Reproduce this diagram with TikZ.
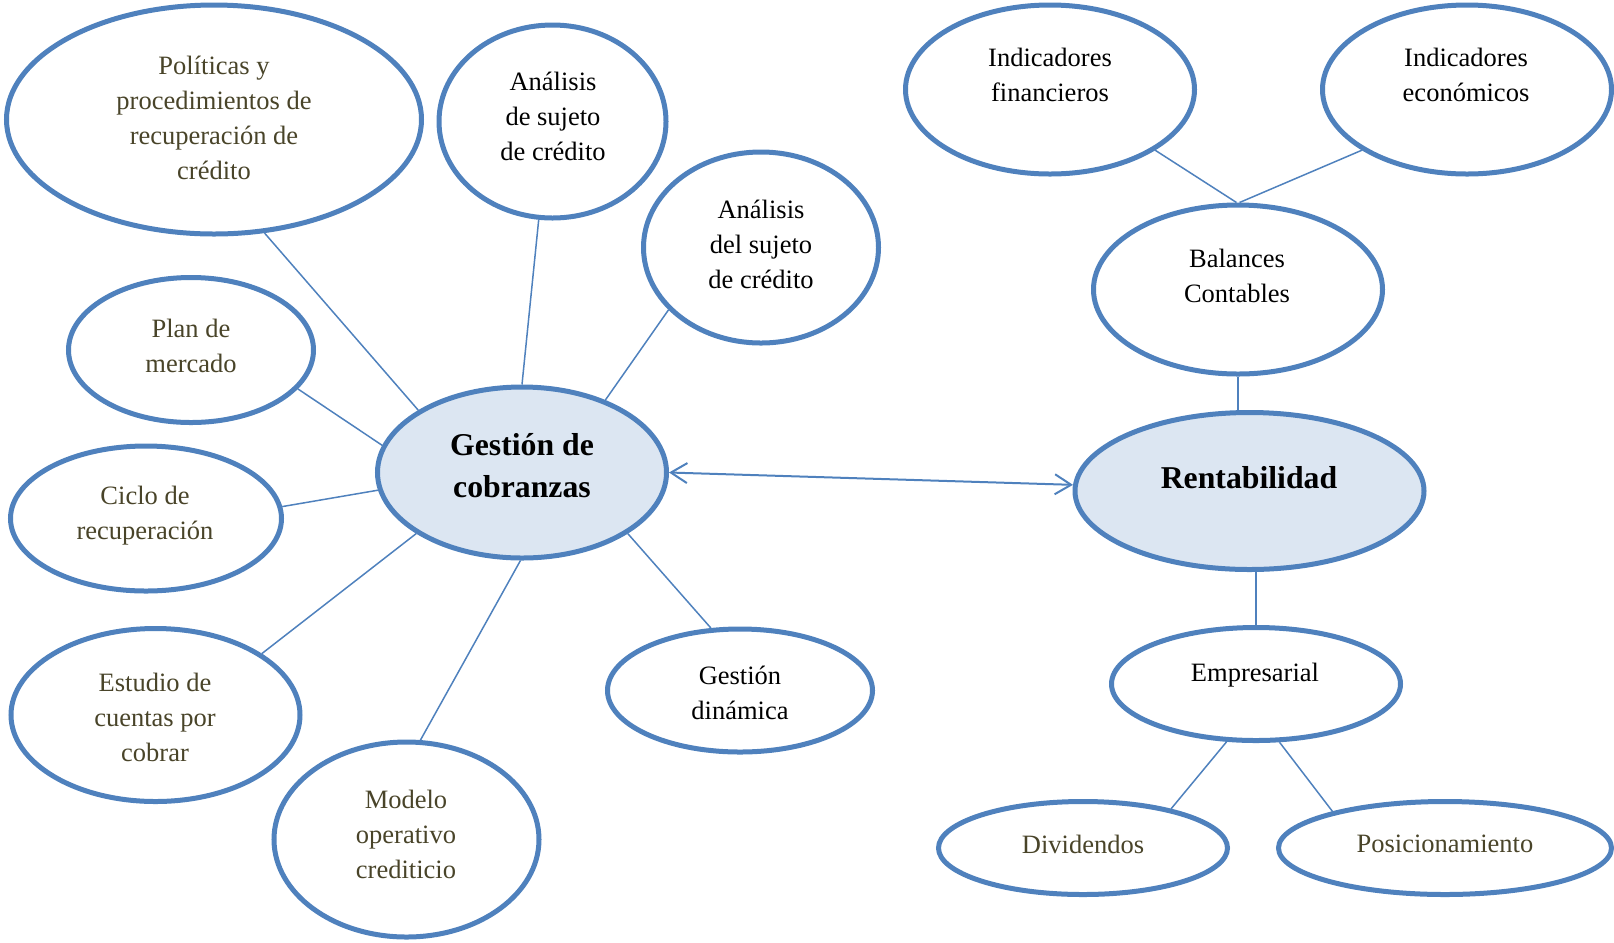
\documentclass[tikz,border=0pt]{standalone}
\usepackage{fontspec}
\setmainfont{Liberation Serif}
\usetikzlibrary{shapes.geometric,arrows.meta}
\definecolor{bblue}{RGB}{79,129,189}
\definecolor{bfill}{RGB}{220,230,242}
\definecolor{oli}{RGB}{73,68,41}
\tikzset{
  bub/.style 2 args={ellipse, draw=bblue, line width=2pt, fill=white, inner sep=0pt,
    minimum width={0.8pt*(#1+1.5)}, minimum height={0.8pt*(#2+1.5)}},
  hub/.style={fill=bfill},
  txt/.style={align=center, inner sep=0pt, font=\fontsize{10.6}{14}\selectfont},
  big/.style={align=center, inner sep=0pt, font=\fontsize{12.7}{16.8}\selectfont\bfseries},
  link/.style={draw=bblue, line width=0.6pt},
  twoway/.style={draw=bblue, line width=0.8pt,
    {Straight Barb[length=6.5pt,width=8pt]}-{Straight Barb[length=6.5pt,width=8pt]}}
}
\begin{document}
\begin{tikzpicture}[x=0.4pt,y=-0.4pt]
\useasboundingbox (0,0) rectangle (1614,942);

% ---- left cluster ----
\node[bub={206}{113}] (pol) at (214,119.5) {};
\node[bub={112}{95}] (asc) at (552.5,121.5) {};
\node[bub={116}{94}] (adc) at (761,247.5) {};
\node[bub={121}{71}] (plan) at (191,350) {};
\node[bub={134}{71}] (ciclo) at (146,518.5) {};
\node[bub={143}{84}, hub] (cob) at (522,472.5) {};
\node[bub={143}{85}] (est) at (155.5,715) {};
\node[bub={131}{96}] (mod) at (406.5,839.5) {};
\node[bub={131}{60}] (gdin) at (740,690.5) {};

% ---- right cluster ----
\node[bub={143}{83}] (ifin) at (1050,89.5) {};
\node[bub={143}{83}] (ieco) at (1467,89.5) {};
\node[bub={143}{83}] (bal) at (1238,289.5) {};
\node[bub={173}{77}, hub] (rent) at (1249.5,491) {};
\node[bub={143}{55}] (emp) at (1256,684) {};
\node[bub={143}{45}] (div) at (1083,848) {};
\node[bub={165}{45}] (pos) at (1445,848) {};

% ---- labels ----
\node[txt, text=oli] (polt) at (214,118) {Políticas y\\procedimientos de\\recuperación de\\crédito};
\node[txt] (asct) at (553,116) {Análisis\\de sujeto\\de crédito};
\node[txt] (adct) at (761,244) {Análisis\\del sujeto\\de crédito};
\node[txt, text=oli] (plant) at (191,346) {Plan de\\mercado};
\node[txt, text=oli] (ciclot) at (145,516) {Ciclo de\\recuperación};
\node[big] (cobt) at (522,466) {Gestión de\\cobranzas};
\node[txt, text=oli] (estt) at (155,717) {Estudio de\\cuentas por\\cobrar};
\node[txt, text=oli] (modt) at (406,834) {Modelo\\operativo\\crediticio};
\node[txt] (gdint) at (740,693) {Gestión\\dinámica};
\node[txt] (ifint) at (1050,75) {Indicadores\\financieros};
\node[txt] (iecot) at (1466,75) {Indicadores\\económicos};
\node[txt] (balt) at (1237,276) {Balances\\Contables};
\node[big] (rentt) at (1249,478) {Rentabilidad};
\node[txt] (empt) at (1255,675) {Empresarial};
\node[txt, text=oli] (divt) at (1083,844) {Dividendos};
\node[txt, text=oli] (post) at (1445,844) {Posicionamiento};

% ---- connectors ----
\draw[link] (pol.-66) -- (cob.149);
\draw[link] (asc.-98) -- (cob.90);
\draw[link] (adc.-146) -- (cob.41);
\draw[link] (plan.-20) -- (cob.169);
\draw[link] (ciclo.5) -- (cob.187);
\draw[link] (est.30) -- (cob.210);
\draw[link] (mod.82) -- (cob.269);
\draw[link] (gdin.115) -- (cob.-30);
\draw[twoway] (cob.east) -- (rent.178);

\draw[link] (ifin.-30) -- (bal.91);
\draw[link] (ieco.210) -- (bal.89);
\draw[link] (bal.south) -- (bal.south |- rent.north);
\draw[link] (emp.north) -- (emp.north |- rent.south);
\draw[link] (emp.-117) -- (div.24);
\draw[link] (emp.-68) -- (pos.162);
\end{tikzpicture}
\end{document}
